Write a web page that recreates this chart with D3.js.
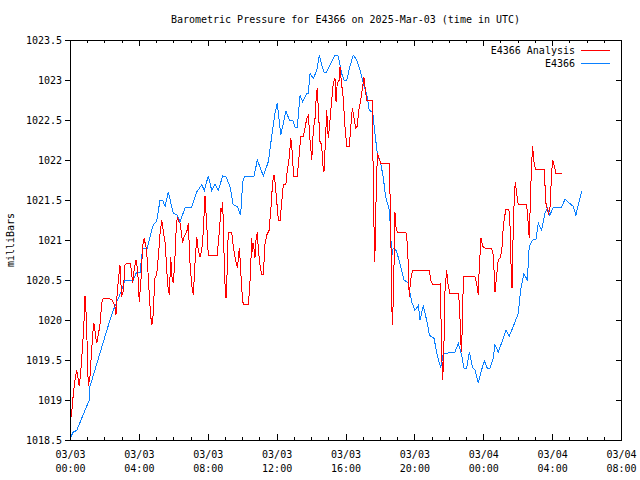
<!DOCTYPE html>
<html>
<head>
<meta charset="utf-8">
<script src="https://cdn.jsdelivr.net/npm/d3@7"></script>
<style>
body{margin:0;background:#fff;}
svg text{font-family:"DejaVu Sans Mono","Liberation Mono",monospace;font-size:10px;fill:#000;}
</style>
</head>
<body>
<svg id="c" width="640" height="480"></svg>
<script>
const titleText = "Barometric Pressure for E4366 on 2025-Mar-03 (time in UTC)";
const yLabel = "milliBars";
const seriesNames = ["E4366 Analysis", "E4366"];
const seriesColors = ["#ff0000", "#0a80ff"];
const startTime = Date.UTC(2025, 2, 3, 0, 0);
const xRangeHours = [0, 32];
const yDomain = [1018.5, 1023.5];
const yTicks = [1018.5, 1019, 1019.5, 1020, 1020.5, 1021, 1021.5, 1022, 1022.5, 1023, 1023.5];
const xTickHours = [0, 4, 8, 12, 16, 20, 24, 28, 32];

// hours since 2025-03-03 00:00 UTC, pressure (mb)
const analysisHours = [0,0.10,0.16,0.23,0.29,0.39,0.48,0.54,0.62,0.68,0.74,0.81,0.87,0.93,1.00,1.06,1.16,1.24,1.32,1.39,1.47,1.55,1.64,1.74,1.84,1.93,2.42,2.61,2.67,2.75,2.85,2.90,3.00,3.10,3.19,3.29,3.52,3.64,3.72,3.83,3.93,4.02,4.11,4.22,4.30,4.41,4.49,4.61,4.69,4.76,4.84,4.92,5.03,5.13,5.23,5.33,5.42,5.53,5.62,5.69,5.77,5.85,5.92,6.00,6.08,6.16,6.23,6.31,6.39,6.46,6.54,6.62,6.78,6.87,6.97,7.07,7.16,7.26,7.36,7.45,7.55,7.65,7.74,7.84,7.94,8.03,8.55,8.67,8.77,8.83,8.87,8.94,9.00,9.06,9.10,9.19,9.39,9.48,9.58,9.68,9.72,9.77,9.83,9.87,9.97,10.06,10.35,10.41,10.49,10.55,10.61,10.65,10.74,10.80,10.88,10.94,11.03,11.13,11.23,11.32,11.42,11.56,11.66,11.77,11.85,11.92,12.00,12.10,12.20,12.29,12.39,12.54,12.62,12.74,12.82,12.87,12.93,13.01,13.20,13.30,13.40,13.55,13.65,13.75,13.84,13.94,14.04,14.13,14.23,14.29,14.36,14.44,14.52,14.62,14.67,14.75,14.83,14.91,14.94,15.00,15.10,15.20,15.29,15.39,15.45,15.52,15.64,15.68,15.78,15.87,15.97,16.07,16.22,16.30,16.40,16.59,16.67,16.78,16.88,16.97,17.07,17.13,17.23,17.56,17.58,17.65,17.69,17.73,17.77,17.85,17.96,18.04,18.54,18.58,18.62,18.68,18.72,18.76,18.82,18.87,18.93,19.01,19.51,19.59,19.65,19.70,19.78,19.90,20.87,20.95,21.06,21.49,21.54,21.59,21.64,21.70,21.78,21.87,21.97,22.07,22.55,22.61,22.69,22.72,22.80,22.84,23.52,23.62,23.71,23.77,23.87,23.97,24.10,24.49,24.58,24.62,24.68,24.78,24.87,24.97,25.07,25.16,25.22,25.32,25.49,25.55,25.63,25.67,25.74,25.80,25.86,25.94,26.03,26.52,26.61,26.67,26.75,26.81,26.87,26.94,27.04,27.53,27.58,27.64,27.78,27.87,27.97,28.03,28.11,28.22,28.55];
const analysisValues = [1018.69,1018.85,1019.0,1019.15,1019.25,1019.38,1019.25,1019.17,1019.35,1019.52,1019.71,1019.96,1020.3,1020.1,1019.67,1019.17,1019.29,1019.56,1019.83,1019.96,1019.83,1019.71,1019.81,1019.94,1020.21,1020.27,1020.26,1020.17,1020.06,1020.37,1020.58,1020.69,1020.29,1020.37,1020.69,1020.71,1020.7,1020.46,1020.62,1020.75,1020.62,1020.23,1020.46,1020.92,1021.02,1020.92,1020.75,1020.29,1020.04,1019.94,1020.08,1020.52,1020.56,1020.79,1021.08,1021.25,1021.11,1020.96,1020.62,1020.42,1020.31,1020.79,1020.54,1020.46,1020.71,1021.1,1021.29,1021.23,1021.21,1021.1,1020.96,1021.04,1021.1,1021.21,1020.71,1020.44,1020.31,1020.71,1021.04,1020.87,1020.79,1020.87,1021.1,1021.55,1021.2,1020.81,1020.81,1021.1,1021.4,1021.35,1021.47,1020.87,1020.46,1020.27,1020.42,1021.1,1021.1,1020.92,1020.79,1020.69,1020.65,1020.75,1020.9,1020.79,1020.4,1020.19,1020.19,1020.33,1020.62,1021.02,1020.85,1020.96,1020.77,1021.0,1021.1,1020.87,1020.69,1020.57,1020.57,1020.94,1021.06,1021.12,1021.37,1021.73,1021.81,1021.71,1021.5,1021.25,1021.25,1021.46,1021.7,1021.7,1021.87,1022.04,1022.27,1022.21,1021.98,1021.79,1021.79,1022.04,1022.29,1022.29,1022.4,1022.52,1022.56,1022.25,1022.0,1022.37,1022.52,1022.75,1022.9,1022.56,1022.23,1022.19,1021.96,1021.85,1022.21,1022.62,1022.5,1022.27,1022.5,1022.75,1022.96,1023.02,1022.73,1022.96,1023.0,1023.16,1022.94,1022.77,1022.42,1022.17,1022.17,1022.4,1022.65,1022.4,1022.42,1022.63,1022.75,1022.88,1023.04,1022.92,1022.75,1022.75,1022.25,1021.23,1020.73,1020.95,1021.46,1022.08,1022.02,1021.96,1021.96,1021.62,1021.29,1020.29,1019.94,1020.17,1020.71,1021.35,1021.16,1021.1,1021.1,1020.96,1020.67,1020.29,1020.5,1020.62,1020.62,1020.5,1020.44,1020.45,1020.08,1019.58,1019.25,1019.5,1020.37,1020.62,1020.42,1020.33,1020.33,1020.21,1019.83,1019.6,1019.96,1020.54,1020.54,1020.46,1020.31,1020.67,1021.02,1020.92,1020.9,1020.9,1020.81,1020.65,1020.35,1020.56,1020.75,1020.77,1020.85,1021.15,1021.27,1021.38,1021.38,1021.21,1020.56,1020.4,1021.12,1021.5,1021.73,1021.58,1021.44,1021.44,1021.21,1021.02,1021.58,1021.96,1022.17,1021.98,1021.88,1021.88,1021.71,1021.46,1021.33,1021.38,1021.83,1022.0,1021.94,1021.83,1021.83];

const obsHours = [0,0.19,0.39,1.12,1.16,2.32,2.51,3.00,3.19,3.68,3.87,4.07,4.22,4.49,4.69,4.84,5.03,5.23,5.38,5.52,5.71,6.00,6.20,6.39,6.68,7.07,7.36,7.65,7.80,8.03,8.23,8.42,8.61,8.87,9.06,9.29,9.48,9.72,9.91,10.03,10.16,10.69,10.88,11.23,11.52,11.71,11.90,12.04,12.24,12.54,12.74,12.93,13.07,13.20,13.36,13.51,13.75,13.84,13.94,14.13,14.33,14.48,14.62,14.75,14.91,15.20,15.39,15.58,15.78,15.91,16.07,16.26,16.45,16.65,16.84,17.03,17.23,17.38,17.58,17.71,17.85,18.04,18.19,18.33,18.54,18.62,18.68,18.77,18.97,19.26,19.40,19.65,19.84,20.03,20.23,20.33,20.52,20.75,20.87,21.14,21.33,21.53,21.68,22.36,22.55,22.75,22.88,23.04,23.19,23.39,23.52,23.71,23.91,24.06,24.23,24.39,24.58,24.68,24.87,25.13,25.32,25.51,25.71,26.03,26.17,26.36,26.56,26.67,26.87,27.06,27.20,27.39,27.58,27.72,27.87,28.07,28.55,28.75,29.00,29.23,29.38,29.52,29.72];
const obsValues = [1018.52,1018.6,1018.62,1019.0,1019.17,1020.0,1020.12,1020.37,1020.5,1020.5,1020.6,1020.6,1020.9,1020.9,1021.08,1021.19,1021.23,1021.5,1021.5,1021.42,1021.6,1021.33,1021.32,1021.23,1021.4,1021.41,1021.6,1021.69,1021.62,1021.8,1021.62,1021.7,1021.62,1021.8,1021.79,1021.67,1021.44,1021.42,1021.31,1021.73,1021.8,1021.8,1022.0,1021.8,1021.98,1022.29,1022.58,1022.71,1022.31,1022.61,1022.5,1022.5,1022.41,1022.41,1022.81,1022.73,1022.83,1022.83,1023.08,1023.02,1023.12,1023.31,1023.19,1023.1,1023.1,1023.23,1023.31,1023.3,1023.08,1023.0,1023.0,1023.17,1023.31,1023.25,1023.13,1022.96,1022.83,1022.62,1022.6,1022.33,1022.08,1021.96,1021.79,1021.54,1021.38,1021.12,1020.79,1020.9,1020.86,1020.62,1020.5,1020.46,1020.23,1020.12,1020.18,1020.0,1020.18,1019.96,1019.81,1019.77,1019.56,1019.4,1019.58,1019.6,1019.71,1019.56,1019.4,1019.4,1019.6,1019.4,1019.38,1019.21,1019.38,1019.49,1019.4,1019.4,1019.52,1019.69,1019.6,1019.75,1019.87,1019.8,1019.9,1020.08,1020.37,1020.58,1020.5,1020.92,1021.0,1021.01,1021.21,1021.12,1021.33,1021.4,1021.31,1021.41,1021.41,1021.51,1021.46,1021.42,1021.31,1021.44,1021.61];

const H = 3600 * 1000;
const toDate = h => new Date(startTime + h * H);
const margin = {left: 70, right: 19, top: 40, bottom: 40};
const W = 640, Ht = 480;
const pw = W - margin.left - margin.right, ph = Ht - margin.top - margin.bottom;

const svg = d3.select("#c");
const x = d3.scaleUtc().domain(xRangeHours.map(toDate)).range([margin.left, margin.left + pw]);
const y = d3.scaleLinear().domain(yDomain).range([margin.top + ph, margin.top]);

const majorTicks = xTickHours.map(toDate);
const minorTicks = d3.range(xRangeHours[0], xRangeHours[1] + 1, 1).filter(h => h % 4 !== 0).map(toDate);

const axG = svg.append("g").attr("shape-rendering", "crispEdges");
axG.append("g").attr("transform", `translate(0,${margin.top + ph})`)
  .call(d3.axisBottom(x).tickValues(minorTicks).tickSize(-3).tickFormat(""))
  .call(g => g.select(".domain").remove());
axG.append("g").attr("transform", `translate(0,${margin.top})`)
  .call(d3.axisTop(x).tickValues(minorTicks).tickSize(-3).tickFormat(""))
  .call(g => g.select(".domain").remove());

const fmtD = d3.utcFormat("%m/%d"), fmtT = d3.utcFormat("%H:%M");
const bx = axG.append("g").attr("transform", `translate(0,${margin.top + ph})`)
  .call(d3.axisBottom(x).tickValues(majorTicks).tickSize(-6).tickPadding(0).tickFormat(""))
  .call(g => g.select(".domain").remove());
bx.selectAll(".tick").each(function(d) {
  const t = d3.select(this).append("text").attr("text-anchor", "middle").attr("fill", "#000");
  t.append("tspan").attr("x", 0).attr("y", 18).text(fmtD(d));
  t.append("tspan").attr("x", 0).attr("y", 32).text(fmtT(d));
});
axG.append("g").attr("transform", `translate(0,${margin.top})`)
  .call(d3.axisTop(x).tickValues(majorTicks).tickSize(-6).tickFormat(""))
  .call(g => g.select(".domain").remove());

const fmtY = d => d3.format("")(+d.toFixed(1));
axG.append("g").attr("transform", `translate(${margin.left},0)`)
  .call(d3.axisLeft(y).tickValues(yTicks).tickSize(5).tickPadding(3).tickFormat(fmtY))
  .call(g => g.select(".domain").remove());
axG.append("g").attr("transform", `translate(${margin.left + pw},0)`)
  .call(d3.axisRight(y).tickValues(yTicks).tickSize(-5).tickFormat(""))
  .call(g => g.select(".domain").remove());
axG.selectAll(".tick line").attr("stroke", "#000");
axG.selectAll(".tick text").attr("fill", "#000").style("font-size", "10px").attr("font-family", null);
svg.selectAll("g[font-family]").attr("font-family", null).attr("font-size", null);

const line = d3.line().x(d => x(toDate(d[0]))).y(d => y(d[1]));
const seriesData = [
  d3.zip(analysisHours, analysisValues),
  d3.zip(obsHours, obsValues)
];
[1, 0].forEach(i => {
  svg.append("path").datum(seriesData[i])
    .attr("fill", "none").attr("stroke", seriesColors[i]).attr("stroke-width", 1)
    .attr("shape-rendering", "crispEdges")
    .attr("d", line);
});

svg.append("rect").attr("x", margin.left + 0.5).attr("y", margin.top + 0.5)
  .attr("width", pw).attr("height", ph)
  .attr("fill", "none").attr("stroke", "#000").attr("stroke-width", 1).attr("shape-rendering", "crispEdges");

svg.append("text").attr("x", margin.left + pw / 2).attr("y", 23).attr("text-anchor", "middle").text(titleText);
svg.append("text").attr("transform", `translate(14,${margin.top + ph / 2}) rotate(-90)`)
  .attr("text-anchor", "middle").text(yLabel);

seriesNames.forEach((n, i) => {
  const ly = 50 + i * 13;
  svg.append("text").attr("x", 575).attr("y", ly + 3.5).attr("text-anchor", "end").text(n);
  svg.append("line").attr("x1", 581).attr("x2", 610).attr("y1", ly + 0.5).attr("y2", ly + 0.5)
    .attr("stroke", seriesColors[i]).attr("stroke-width", 1).attr("shape-rendering", "crispEdges");
});
</script>
</body>
</html>
